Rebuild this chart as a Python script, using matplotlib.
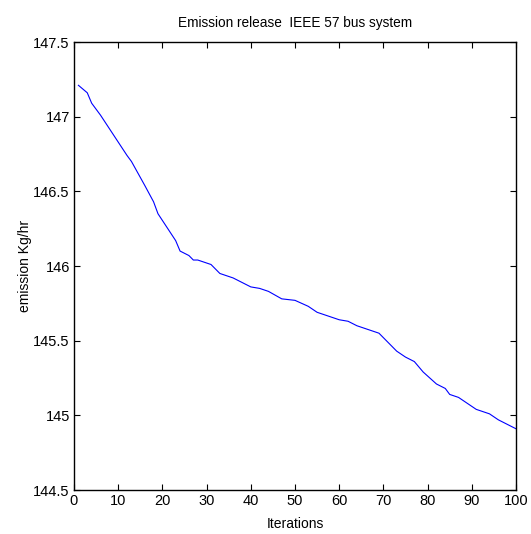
import matplotlib
matplotlib.use('Agg')
import matplotlib.pyplot as plt

# emission per iteration
iters = [1, 3, 4, 6, 8, 10, 12, 13, 16, 18, 19, 21, 23, 24, 26, 27, 28, 31,
         33, 36, 40, 42, 44, 47, 50, 53, 55, 58, 60, 62, 64, 67, 69, 71, 73,
         75, 77, 79, 82, 84, 85, 87, 89, 91, 94, 96, 100]
emission = [147.21, 147.16, 147.09, 147.01, 146.92, 146.83, 146.74, 146.70,
            146.54, 146.43, 146.35, 146.26, 146.17, 146.10, 146.07, 146.04,
            146.04, 146.01, 145.95, 145.92, 145.86, 145.85, 145.83, 145.78,
            145.77, 145.73, 145.69, 145.66, 145.64, 145.63, 145.60, 145.57,
            145.55, 145.49, 145.43, 145.39, 145.36, 145.29, 145.21, 145.18,
            145.14, 145.12, 145.08, 145.04, 145.01, 144.97, 144.91]

xticks = list(range(0, 101, 10))
yticks = [144.5, 145, 145.5, 146, 146.5, 147, 147.5]
yticklabels = ['144.5', '145', '145.5', '146', '146.5', '147', '147.5']

plt.rcParams['font.family'] = ['Liberation Sans', 'DejaVu Sans']

fig = plt.figure(figsize=(5.31, 5.34), dpi=100)
ax = fig.add_axes([74/531, 1-490/534, (516-74)/531, (490-42)/534])

ax.plot(iters, emission, color='#0000ff', linewidth=0.8)

ax.set_xlim(0, 100)
ax.set_ylim(144.5, 147.5)
ax.set_xticks(xticks)
ax.set_yticks(yticks)
ax.set_yticklabels(yticklabels)
ax.tick_params(direction='in', top=True, right=True, length=4, width=0.8,
               labelsize=10.5, pad=3)
for s in ax.spines.values():
    s.set_linewidth(1.0)

ax.set_title('Emission release  IEEE 57 bus system', fontsize=9.8, pad=11)
ax.set_xlabel('Iterations', fontsize=10, labelpad=6)
ax.set_ylabel('emission Kg/hr', fontsize=10, labelpad=1)

fig.savefig('out.png', dpi=100)
